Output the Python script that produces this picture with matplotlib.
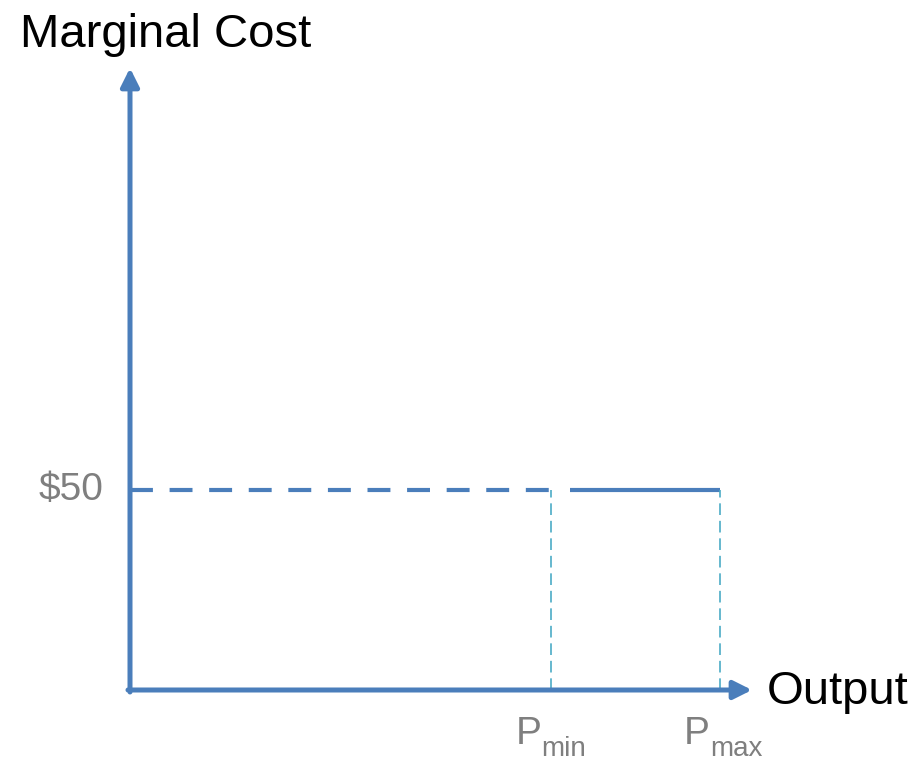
import matplotlib.pyplot as plt

plt.rcParams['font.family'] = ['Liberation Sans', 'DejaVu Sans']

# marginal cost curve of a generator: flat price between min and max output
price = 50
p_min = 250
p_max = 350
price_label = '$50'
x_label = 'Output'
y_label = 'Marginal Cost'
limit_subs = ['min', 'max']

blue = '#4A7EBB'
teal = '#4BACC6'
grey = '#7F7F7F'

W, H = 918, 761
fig = plt.figure(figsize=(W / 100, H / 100), dpi=100)
# axes box: origin at (130, 690) px, arrows end at x=752, y=68
ax = fig.add_axes([130 / W, (H - 690) / H, 622 / W, 622 / H])
ax.set_xlim(0, 369)
ax.set_ylim(0, 155.5)
ax.axis('off')

# axes drawn as arrows
arrow = dict(arrowstyle='-|>,head_length=1.1,head_width=0.55', color=blue,
             lw=3.6, shrinkA=0, shrinkB=0)
ax.annotate('', xy=(369, 0), xytext=(-1.2, 0), arrowprops=arrow,
            annotation_clip=False)
ax.annotate('', xy=(0, 155.5), xytext=(0, -0.5), arrowprops=arrow,
            annotation_clip=False)

# price line: dashed below min output, solid across the operating range
ax.plot([0, p_min + 4], [price, price], color=blue, lw=3,
        dashes=(5.5, 4.0), solid_capstyle='butt', clip_on=False)
ax.plot([p_min + 11, p_max], [price, price], color=blue, lw=3,
        solid_capstyle='butt', clip_on=False)

# guides down to the output axis
for p in (p_min, p_max):
    ax.plot([p, p], [0, price], color=teal, lw=1.2, dashes=(7, 3.5))

ax.text(-16, price, price_label, color=grey, fontsize=28,
        ha='right', va='center')

# P with a subscript under each guide
for p, sub in zip((p_min, p_max), limit_subs):
    ax.annotate('P', xy=(p, 0), xytext=(-10, -54), textcoords='offset pixels',
                color=grey, fontsize=28, ha='right', va='baseline',
                annotation_clip=False)
    ax.annotate(sub, xy=(p, 0), xytext=(-10, -66), textcoords='offset pixels',
                color=grey, fontsize=20, ha='left', va='baseline',
                annotation_clip=False)

fig.text(20 / W, 1 - 47 / H, y_label, fontsize=34, ha='left', va='baseline')
fig.text(767 / W, 1 - 692 / H, x_label, fontsize=34, ha='left', va='center')

fig.savefig('out.png', dpi=100)
